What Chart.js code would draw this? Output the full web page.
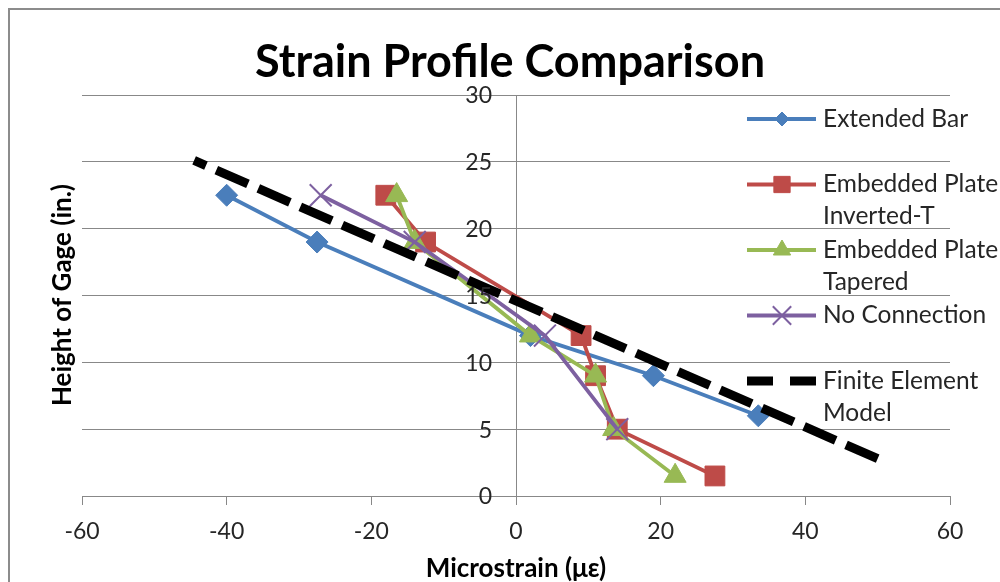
<!DOCTYPE html>
<html>
<head>
<meta charset="utf-8">
<script src="https://cdn.jsdelivr.net/npm/chart.js@4/dist/chart.umd.min.js"></script>
<style>
  html, body { margin: 0; padding: 0; background: #fff; }
</style>
</head>
<body>
<canvas id="strainChart" width="1000" height="582"></canvas>
<script>
// microstrain (x) at each gage height (y, in.)
var extendedBarStrain = [-40, -27.5, 2, 19, 33.5];
var extendedBarHeight = [22.5, 19, 12, 9, 6];
var invertedTStrain = [-18, -12.5, 9, 11, 14, 27.5];
var invertedTHeight = [22.5, 19, 12, 9, 5, 1.5];
var taperedStrain = [-16.5, -14, 2, 11, 13.5, 22];
var taperedHeight = [22.5, 19, 12, 9, 5, 1.5];
var noConnStrain = [-27, -14, 4, 14];
var noConnHeight = [22.5, 19, 12, 5];
// FE line runs from the bottom gage upward
var feModelStrain = [50, -44.5];
var feModelHeight = [2.8, 25.1];

var xTicks = [-60, -40, -20, 0, 20, 40, 60];
var yTicks = [0, 5, 10, 15, 20, 25, 30];

var FONT = "Lato";
var TEXT = "#262626";

function pts(xs, ys) {
  return xs.map(function (x, i) { return { x: x, y: ys[i] }; });
}

// frame, title, y-axis title and the y tick labels left of the zero line
var decorations = {
  id: "decorations",
  beforeDraw: function (chart) {
    var ctx = chart.ctx;
    ctx.save();
    ctx.strokeStyle = "#8c8c8c";
    ctx.lineWidth = 2;
    ctx.strokeRect(9, 9, 1200, 800);
    ctx.restore();
  },
  afterDraw: function (chart) {
    var ctx = chart.ctx;
    var xs = chart.scales.x, ys = chart.scales.y;
    ctx.save();
    ctx.font = "23px " + FONT;
    ctx.fillStyle = TEXT;
    ctx.textAlign = "right";
    ctx.textBaseline = "middle";
    var axisX = xs.getPixelForValue(0);
    yTicks.forEach(function (v) {
      ctx.fillText(String(v), axisX - 24, ys.getPixelForValue(v) + 1);
    });

    ctx.fillStyle = "#000";
    ctx.textAlign = "center";
    ctx.textBaseline = "alphabetic";
    ctx.font = "bold 45px " + FONT;
    ctx.fillText("Strain Profile Comparison", 510, 77);

    ctx.translate(63, 295);
    ctx.rotate(-Math.PI / 2);
    ctx.textBaseline = "middle";
    ctx.font = "bold 26px " + FONT;
    ctx.fillText("Height of Gage (in.)", 0, 0);
    ctx.restore();
  }
};

// legend on the right, labels may wrap onto a second line
var sideLegend = {
  id: "sideLegend",
  afterDraw: function (chart) {
    var ctx = chart.ctx;
    var sets = chart.data.datasets;
    ctx.save();
    ctx.font = "24.5px " + FONT;
    ctx.textBaseline = "middle";
    ctx.textAlign = "left";
    for (var i = 0; i < sets.length; i++) {
      var ds = sets[i];
      var y = 119 + i * 65.5;
      ctx.save();
      ctx.strokeStyle = ds.borderColor;
      ctx.lineWidth = ds.borderWidth;
      ctx.setLineDash(ds.legendDash || []);
      ctx.beginPath();
      ctx.moveTo(747, y);
      ctx.lineTo(816, y);
      ctx.stroke();
      ctx.restore();
      if (ds.pointRadius > 0) {
        ctx.save();
        ctx.fillStyle = ds.pointBackgroundColor;
        ctx.strokeStyle = ds.pointBorderColor;
        ctx.lineWidth = ds.pointBorderWidth;
        Chart.helpers.drawPoint(ctx, {
          pointStyle: ds.pointStyle,
          radius: ds.legendRadius,
          rotation: 0,
          borderWidth: ds.pointBorderWidth
        }, 782, y);
        ctx.restore();
      }
      ctx.fillStyle = TEXT;
      var lines = ds.label.split("\n");
      for (var j = 0; j < lines.length; j++) {
        ctx.fillText(lines[j], 823, y + j * 32);
      }
    }
    ctx.restore();
  }
};

var ctx = document.getElementById("strainChart").getContext("2d");
var myChart = new Chart(ctx, {
  type: "scatter",
  data: {
    datasets: [
      {
        label: "Extended Bar",
        data: pts(extendedBarStrain, extendedBarHeight),
        showLine: true,
        borderColor: "#4a7ebb",
        borderWidth: 3.8,
        pointStyle: "rectRot",
        pointRadius: 11,
        legendRadius: 7,
        pointBackgroundColor: "#4a7ebb",
        pointBorderColor: "#4a7ebb",
        pointBorderWidth: 1,
        order: 4,
      },
      {
        label: "Embedded Plate\nInverted-T",
        data: pts(invertedTStrain, invertedTHeight),
        showLine: true,
        borderColor: "#be4b48",
        borderWidth: 3.8,
        pointStyle: "rect",
        pointRadius: 14,
        legendRadius: 11.5,
        pointBackgroundColor: "#be4b48",
        pointBorderColor: "#be4b48",
        pointBorderWidth: 1,
        order: 3,
      },
      {
        label: "Embedded Plate\nTapered",
        data: pts(taperedStrain, taperedHeight),
        showLine: true,
        borderColor: "#98b954",
        borderWidth: 3.8,
        pointStyle: "triangle",
        pointRadius: 12.7,
        legendRadius: 10,
        pointBackgroundColor: "#98b954",
        pointBorderColor: "#98b954",
        pointBorderWidth: 1,
        order: 2,
      },
      {
        label: "No Connection",
        data: pts(noConnStrain, noConnHeight),
        showLine: true,
        borderColor: "#7d60a0",
        borderWidth: 3.8,
        pointStyle: "crossRot",
        pointRadius: 15.5,
        legendRadius: 13,
        pointBackgroundColor: "#7d60a0",
        pointBorderColor: "#7d60a0",
        pointBorderWidth: 2,
        order: 1,
      },
      {
        label: "Finite Element\nModel",
        data: pts(feModelStrain, feModelHeight),
        showLine: true,
        borderColor: "#000000",
        borderWidth: 9,
        borderDash: [34.5, 11.3],
        legendDash: [26, 17],
        borderCapStyle: "butt",
        pointRadius: 0,
        order: 0,
      },
    ],
  },
  options: {
    responsive: false,
    animation: false,
    devicePixelRatio: 1,
    layout: { padding: { left: 82, right: 50, top: 95, bottom: 2 } },
    plugins: {
      legend: { display: false },
      tooltip: { enabled: false },
    },
    scales: {
      x: {
        type: "linear",
        min: -60,
        max: 60,
        afterBuildTicks: function (s) { s.ticks = xTicks.map(function (v) { return { value: v }; }); },
        ticks: { font: { family: FONT, size: 23, lineHeight: 1.0 }, color: TEXT, padding: 15 },
        grid: { drawOnChartArea: false, drawTicks: true, tickLength: 9, color: "#888" },
        border: { color: "#888" },
        title: {
          display: true,
          text: "Microstrain (με)",
          color: "#000",
          font: { family: FONT, size: 26, weight: "bold", lineHeight: "22px" },
          padding: { top: 0, bottom: 0 },
        },
      },
      y: {
        type: "linear",
        min: 0,
        max: 30,
        position: { x: 0 },
        afterBuildTicks: function (s) { s.ticks = yTicks.map(function (v) { return { value: v }; }); },
        ticks: { display: false },
        grid: { drawTicks: false, color: "#888" },
        border: { color: "#888" },
      },
    },
  },
  plugins: [decorations, sideLegend],
});
</script>
</body>
</html>
